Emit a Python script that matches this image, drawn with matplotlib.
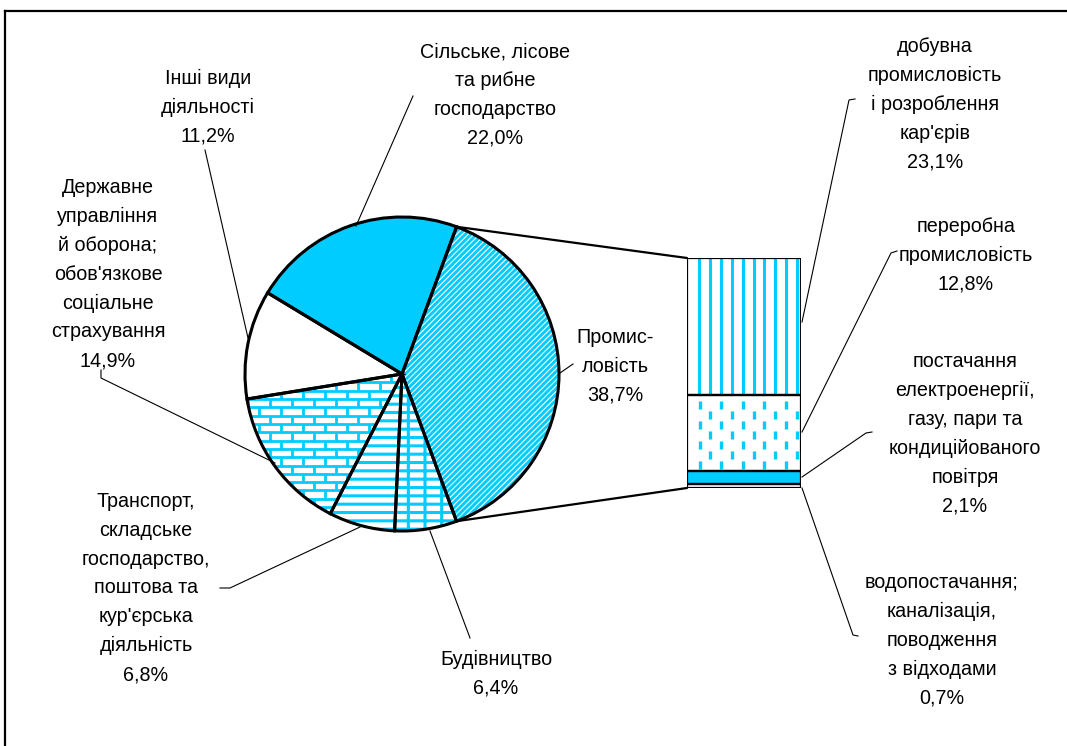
import numpy as np
import matplotlib
matplotlib.use('Agg')
from matplotlib import pyplot as plt
from matplotlib.collections import LineCollection
from matplotlib.lines import Line2D
from matplotlib.patches import ConnectionPatch

W, H = 1067, 746
CYAN = '#00CCFF'

# структура за видами діяльності, %
sectors = ['Промис-\nловість',
           'Сільське, лісове\nта рибне\nгосподарство',
           'Інші види\nдіяльності',
           "Державне\nуправління\nй оборона;\nобов'язкове\nсоціальне\nстрахування",
           "Транспорт,\nскладське\nгосподарство,\nпоштова та\nкур'єрська\nдіяльність",
           'Будівництво']
shares = [38.7, 22.0, 11.2, 14.9, 6.8, 6.4]

# розбивка промисловості (зверху вниз)
industry_parts = ["добувна\nпромисловість\nі розроблення\nкар'єрів",
                  'переробна\nпромисловість',
                  'постачання\nелектроенергії,\nгазу, пари та\nкондиційованого\nповітря',
                  'водопостачання;\nканалізація,\nповодження\nз відходами']
industry_shares = [23.1, 12.8, 2.1, 0.7]


def pct(v):
    return ('%.1f' % v).replace('.', ',') + '%'


def px(x, y):
    # координати референсу (пікселі, зверху вниз) -> частки фігури
    return x / W, 1 - y / H


plt.rcParams['font.family'] = ['Liberation Sans', 'DejaVu Sans']
plt.rcParams['hatch.linewidth'] = 2.2

fig = plt.figure(figsize=(W / 100, H / 100), dpi=100)

# --- кругова діаграма ---
R_PX = 157
cx, cy = 402, 374
side = 2.4 * R_PX
ax = fig.add_axes([(cx - side / 2) / W, (H - cy - side / 2) / H, side / W, side / H])
start = -shares[0] / 100 * 360 / 2
faces = ['white', CYAN, 'white', 'white', 'white', 'white']
hatches = [None, None, None, None, '--', '--|']
wedges, _ = ax.pie(shares, startangle=start, colors=faces, hatch=hatches,
                   wedgeprops=dict(edgecolor=CYAN, linewidth=0))

# косі смуги для промисловості
step = 5.7 / R_PX
diag = []
for c in np.arange(-2.2, 2.2, step):
    diag.append([(-1.1, -1.1 + c), (1.1, 1.1 + c)])
stripes = LineCollection(diag, colors=CYAN, linewidths=2.1)
ax.add_collection(stripes)
stripes.set_clip_path(wedges[0])

# цегляний візерунок для державного управління
bh, bw = 0.053, 0.14
segs = []
for k in range(-22, 6):
    y0 = k * bh
    segs.append([(-1.1, y0), (0.3, y0)])
    off = (k % 2) * bw / 2
    for j in range(-9, 3):
        x0 = j * bw + off
        segs.append([(x0, y0), (x0, y0 + bh)])
bricks = LineCollection(segs, colors=CYAN, linewidths=2.0)
ax.add_collection(bricks)
bricks.set_clip_path(wedges[3])

ax.pie(shares, startangle=start,
       wedgeprops=dict(edgecolor='black', linewidth=2.2, fill=False, zorder=5))
ax.set_xlim(-1.2, 1.2)
ax.set_ylim(-1.2, 1.2)
ax.set_aspect('equal')
ax.axis('off')

# --- стовпчик промисловості ---
bx = fig.add_axes([687 / W, (H - 488) / H, 114 / W, 230 / H])
bottoms = np.cumsum([0] + industry_shares[::-1])[:-1][::-1]
bar_faces = ['white', 'white', CYAN, 'white']
bx.bar([0] * 4, industry_shares, bottom=bottoms, width=1, color=bar_faces,
       linewidth=0, zorder=1)
bx.bar([0] * 4, industry_shares, bottom=bottoms, width=1, fill=False,
       edgecolor='black', linewidth=1.6, zorder=3)
bx.set_xlim(-0.5, 0.5)
bx.set_ylim(0, sum(industry_shares))
bx.axis('off')

# вертикальні лінії (добувна)
top = sum(industry_shares)
b0 = bottoms[0]
xs = -0.5 + 12 / 114 + np.arange(10) * 10.9 / 114
bx.vlines(xs, b0, top, colors=CYAN, linewidth=2.2, zorder=2)

# штрихи (переробна)
b1, h1 = bottoms[1], industry_shares[1]
dash_segs = []
step_x, step_y, dl = 10.8 / 114, 3.37, 1.4
for i in range(10):
    x0 = -0.5 + 0.11 + i * step_x
    shift = (i % 2) * step_y / 2
    y = b1 + 0.4 + shift
    while y + dl < b1 + h1 - 0.2:
        dash_segs.append([(x0, y), (x0, y + dl)])
        y += step_y
bx.add_collection(LineCollection(dash_segs, colors=CYAN, linewidths=2.4, zorder=2,
                                 capstyle='butt'))

# лінії від сектора до стовпчика
th1, th2 = np.deg2rad(wedges[0].theta1), np.deg2rad(wedges[0].theta2)
for th, yb in [(th2, top), (th1, 0)]:
    con = ConnectionPatch(xyA=(np.cos(th), np.sin(th)), coordsA=ax.transData,
                          xyB=(-0.5, yb), coordsB=bx.transData,
                          color='black', linewidth=1.6)
    fig.add_artist(con)

# --- підписи ---
FS, LS = 14.2, 1.66
pie_text_pos = [(615, 366), (495, 95), (208, 107), (108, 274), (146, 588), (496, 674)]
for name, v, (x, y) in zip(sectors, shares, pie_text_pos):
    fig.text(*px(x, y), name + '\n' + pct(v), ha='center', va='center',
             fontsize=FS, linespacing=LS)

bar_text_pos = [(935, 104), (966, 255), (965, 434), (942, 640)]
for name, v, (x, y) in zip(industry_parts, industry_shares, bar_text_pos):
    fig.text(*px(x, y), name + '\n' + pct(v), ha='center', va='center',
             fontsize=FS, linespacing=LS)

leaders = [
    [(573, 364), (560, 373)],
    [(413, 96), (356, 226)],
    [(205, 150), (248, 338)],
    [(101, 370), (101, 378), (275, 463)],
    [(220, 588), (230, 588), (360, 527)],
    [(470, 638), (430, 531)],
    [(855, 99), (849, 100), (802, 322)],
    [(897, 251), (891, 253), (802, 432)],
    [(872, 432), (866, 433), (802, 477)],
    [(802, 488), (853, 635), (858, 636)],
]
for pts in leaders:
    lx, ly = zip(*[px(x, y) for x, y in pts])
    fig.add_artist(Line2D(lx, ly, transform=fig.transFigure, color='black', linewidth=0.8))

# рамка
fig.add_artist(Line2D([5 / W, 1], [1 - 11 / H, 1 - 11 / H], transform=fig.transFigure,
                      color='black', linewidth=1.6))
fig.add_artist(Line2D([5 / W, 5 / W], [0, 1 - 11 / H], transform=fig.transFigure,
                      color='black', linewidth=1.6))

fig.savefig('out.png', dpi=100, facecolor='white')
